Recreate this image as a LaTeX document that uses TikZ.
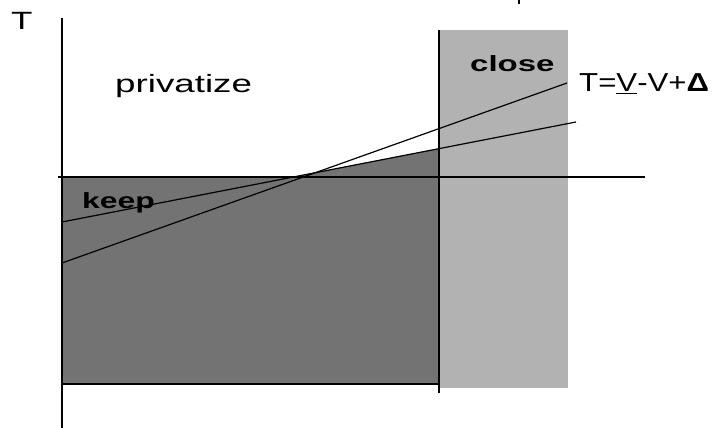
\documentclass[tikz,border=0pt]{standalone}
\usepackage{fontspec}
\setmainfont{Liberation Sans}
\begin{document}
\begin{tikzpicture}[x=1pt,y=-1pt,
  axis/.style={line width=2pt},
  edge/.style={line width=1.5pt},
  rule/.style={line width=1.2pt},
  lbl/.style={inner sep=0pt, font=\fontsize{25}{25}\selectfont},
  region/.style={inner sep=0pt, font=\fontsize{22}{22}\selectfont\bfseries},
]
\useasboundingbox (0,0) rectangle (716,428);

% shaded regions: "close" band and the "keep" zone below the axis
\fill[black!30] (439,30) rectangle (568,388);
\fill[black!55] (62,177) rectangle (439,384);
\fill[black!55] (292,177) -- (439,148.5) -- (439,177) -- cycle;

% end points of the two threshold lines
\coordinate (s0) at (62,263);
\coordinate (s1) at (567,83);
\coordinate (f0) at (62,222);
\coordinate (f1) at (576,122);

% axes and region borders
\coordinate (ytop) at (62,18);
\coordinate (ybot) at (62,428);
\coordinate (xl) at (58,177);
\coordinate (xr) at (645,177);
\draw[axis] (ytop) -- (ybot);
\draw[axis] (xl) -- (xr);
\coordinate (ct) at (439,30);
\coordinate (cb) at (439,393);
\coordinate (kb) at (62,384);
\coordinate (kr) at (439,384);
\draw[edge] (ct) -- (cb);
\draw[edge] (kb) -- (kr);

% threshold lines
\draw[rule] (s0) -- (s1);
\draw[rule] (f0) -- (f1);

% small mark at the top edge
\coordinate (m0) at (519,0);
\coordinate (m1) at (519,4);
\draw[line width=1.5pt] (m0) -- (m1);

% labels
\node[lbl, anchor=base west] (tlab) at (11,30) {\scalebox{1.4}[1]{T}};
\node[lbl, anchor=base west] (priv) at (115,93) {\scalebox{1.47}[1]{privatize}};
\node[region, anchor=base west] (close) at (470,72) {\scalebox{1.5}[1]{close}};
\node[region, anchor=base west] (keep) at (82,208) {\scalebox{1.45}[1]{keep}};
\node[lbl, font=\fontsize{26}{26}\selectfont, anchor=base west] (eq) at (579,92)
  {\scalebox{1.2}[1]{T=\underline{V}-V+\textbf{Δ}}};
\end{tikzpicture}
\end{document}
